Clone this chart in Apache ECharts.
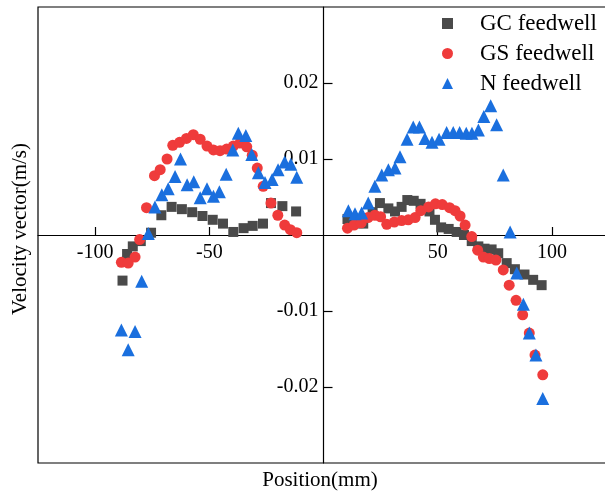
<!DOCTYPE html>
<html>
<head>
<meta charset="utf-8">
<script src="https://cdn.jsdelivr.net/npm/echarts@6/dist/echarts.min.js"></script>
<style>
  html, body { margin: 0; padding: 0; background: #fff; }
  #chart { width: 605px; height: 495px; }
</style>
</head>
<body>
<div id="chart"></div>
<script>
// Velocity vector profiles across the tank for three feedwell designs.
// Each pair is [position (mm), velocity (m/s)].
const gcLeft = [
  [-88, -0.0060], [-86, -0.0025], [-83.5, -0.0015], [-80, -0.0008], [-75.5, 0.0003],
  [-71, 0.0026], [-66.5, 0.0037], [-62, 0.0034], [-57.5, 0.0030], [-53, 0.0025],
  [-48.5, 0.0020], [-44, 0.0015], [-39.5, 0.0004], [-35, 0.0009], [-31, 0.0012],
  [-26.5, 0.0015], [-23, 0.0042], [-18, 0.0038], [-12, 0.0031]
];
const gcRight = [
  [10.5, 0.0021], [14, 0.0017], [17.4, 0.0015], [21.5, 0.0030], [24.7, 0.0042],
  [28.4, 0.0035], [31.3, 0.0031], [34.2, 0.0037], [36.7, 0.0046], [39.5, 0.0045],
  [42.5, 0.0041], [46.4, 0.0031], [48.8, 0.0020], [51.5, 0.0010], [54.8, 0.0008],
  [58.3, 0.0004], [61.5, 0.0000], [64.9, -0.0008], [67.8, -0.0015], [70.5, -0.0018],
  [73.6, -0.0019], [76.5, -0.0024], [80.2, -0.0037], [83.8, -0.0045], [88, -0.0052],
  [91.8, -0.0059], [95.5, -0.0066]
];
const gsLeft = [
  [-88.5, -0.0036], [-85.5, -0.0037], [-82.5, -0.0029], [-80.5, -0.0006], [-77.5, 0.0036],
  [-74, 0.0078], [-71.5, 0.0086], [-68.5, 0.0100], [-66, 0.0118], [-63, 0.0122],
  [-60, 0.0127], [-57, 0.0132], [-54, 0.0126], [-51, 0.0117], [-48.2, 0.0112],
  [-45.3, 0.0111], [-42.4, 0.0113], [-39.5, 0.0117], [-36.6, 0.0121], [-33.6, 0.0116],
  [-31.2, 0.0105], [-29, 0.0088], [-26.4, 0.0064], [-23, 0.0042], [-20, 0.0026],
  [-17, 0.0013], [-14.5, 0.0007], [-11.7, 0.0003]
];
const gsRight = [
  [10.5, 0.0009], [13.4, 0.0013], [16.5, 0.0016], [19.5, 0.0023], [22.5, 0.0026],
  [25, 0.0024], [27.7, 0.0014], [31, 0.0017], [34.2, 0.0019], [37.1, 0.0020],
  [40.1, 0.0023], [42.6, 0.0032], [46, 0.0037], [49, 0.0041], [52, 0.0040],
  [55.2, 0.0036], [57.6, 0.0032], [59.8, 0.0025], [62, 0.0013], [64.9, -0.0002],
  [67.5, -0.0020], [70, -0.0029], [72.6, -0.0031], [75.5, -0.0033], [78.7, -0.0046],
  [81.3, -0.0066], [84.3, -0.0086], [87.2, -0.0105], [90.1, -0.0129], [92.6, -0.0158],
  [96, -0.0184]
];
const nLeft = [
  [-88.5, -0.0125], [-85.5, -0.0151], [-82.5, -0.0127], [-79.6, -0.0061], [-76.7, 0.0002],
  [-73.8, 0.0037], [-70.8, 0.0053], [-68, 0.0061], [-65, 0.0077], [-62.6, 0.0100],
  [-59.7, 0.0066], [-56.8, 0.0070], [-54, 0.0049], [-51, 0.0061], [-48.2, 0.0051],
  [-45.6, 0.0057], [-42.6, 0.0080], [-39.7, 0.0112], [-37.3, 0.0134], [-34, 0.0131],
  [-31.4, 0.0106], [-28.5, 0.0082], [-25.6, 0.0069], [-22.5, 0.0073], [-19.9, 0.0086],
  [-17, 0.0096], [-14.3, 0.0093], [-11.7, 0.0076]
];
const nRight = [
  [10.9, 0.0032], [13.8, 0.0028], [16.7, 0.0029], [19.6, 0.0042], [22.5, 0.0064],
  [25.5, 0.0079], [28.4, 0.0086], [31.3, 0.0088], [33.5, 0.0103], [36.6, 0.0126],
  [39.3, 0.0142], [42, 0.0142], [44.4, 0.0127], [47.5, 0.0122], [50.6, 0.0126],
  [53.9, 0.0135], [56.8, 0.0135], [59.6, 0.0135], [62.5, 0.0134], [65, 0.0134],
  [67.8, 0.0138], [70.2, 0.0156], [73.2, 0.0170], [75.8, 0.0145], [78.7, 0.0079],
  [81.7, 0.0004], [84.6, -0.0050], [87.5, -0.0091], [90.1, -0.0129], [93, -0.0158],
  [96, -0.0215]
];

const seriesNames = ['GC feedwell', 'GS feedwell', 'N feedwell'];
const xTicks = [-100, -50, 50, 100];
const yTicks = [-0.02, -0.01, 0.01, 0.02];

const FONT = "'Liberation Serif', 'Times New Roman', serif";

// Plot box in pixels; the two axes cross at the data origin inside it.
const box = { left: 38, right: -4, top: 7, bottom: 32 };
const boxW = 605 - box.left - box.right;
const boxH = 495 - box.top - box.bottom;
const xMin = -125, xMax = 125, yMin = -0.03, yMax = 0.03;
const zeroX = boxW * (0 - xMin) / (xMax - xMin);   // from box left
const zeroY = boxH * (yMax - 0) / (yMax - yMin);   // from box top

const chart = echarts.init(document.getElementById('chart'), null, { renderer: 'canvas' });

chart.setOption({
  animation: false,
  backgroundColor: '#ffffff',
  textStyle: { fontFamily: FONT, color: '#000' },
  grid: {
    left: box.left, right: box.right, top: box.top, bottom: box.bottom,
    outerBoundsMode: 'none', containLabel: false,
    show: true, borderColor: '#000', borderWidth: 1.2, backgroundColor: 'transparent'
  },
  legend: {
    orient: 'vertical',
    left: 437, top: 7,
    itemWidth: 11, itemHeight: 11, itemGap: 7,
    data: seriesNames,
    textStyle: { fontFamily: FONT, fontSize: 23, color: '#000', lineHeight: 22, padding: [0, 0, 0, 22] }
  },
  xAxis: {
    type: 'value', min: xMin, max: xMax,
    position: 'bottom', offset: -(boxH - zeroY),
    axisLine: { onZero: false, lineStyle: { color: '#000', width: 1.2 } },
    axisTick: { inside: true, length: 8, customValues: xTicks, lineStyle: { color: '#000', width: 1.2 } },
    axisLabel: { customValues: xTicks, margin: 8, fontFamily: FONT, fontSize: 20, color: '#000' },
    splitLine: { show: false }
  },
  yAxis: {
    type: 'value', min: yMin, max: yMax,
    position: 'left', offset: -zeroX,
    axisLine: { onZero: false, lineStyle: { color: '#000', width: 1.2 } },
    axisTick: { inside: true, length: 9, customValues: yTicks, lineStyle: { color: '#000', width: 1.2 } },
    axisLabel: {
      customValues: yTicks, margin: 5, fontFamily: FONT, fontSize: 20, color: '#000',
      formatter: v => v.toFixed(2)
    },
    splitLine: { show: false }
  },
  graphic: [
    {
      type: 'text', x: 320, y: 480,
      style: {
        text: 'Position(mm)', font: "21px " + FONT, fill: '#000',
        align: 'center', verticalAlign: 'middle'
      }
    },
    {
      type: 'text', rotation: Math.PI / 2,
      x: 20, y: 229,
      style: {
        text: 'Velocity vector(m/s)', font: "21px " + FONT, fill: '#000',
        align: 'center', verticalAlign: 'middle'
      }
    }
  ],
  series: [
    {
      name: seriesNames[0], type: 'scatter', symbol: 'rect', symbolSize: 10,
      itemStyle: { color: '#4a4a4a', opacity: 1 },
      data: gcLeft.concat(gcRight), z: 2
    },
    {
      name: seriesNames[1], type: 'scatter', symbol: 'circle', symbolSize: 11,
      itemStyle: { color: '#ef3b3b', opacity: 1 },
      data: gsLeft.concat(gsRight), z: 3
    },
    {
      name: seriesNames[2], type: 'scatter', symbol: 'triangle', symbolSize: 13,
      itemStyle: { color: '#1a6fde', opacity: 1 },
      data: nLeft.concat(nRight), z: 4
    }
  ]
});
</script>
</body>
</html>
